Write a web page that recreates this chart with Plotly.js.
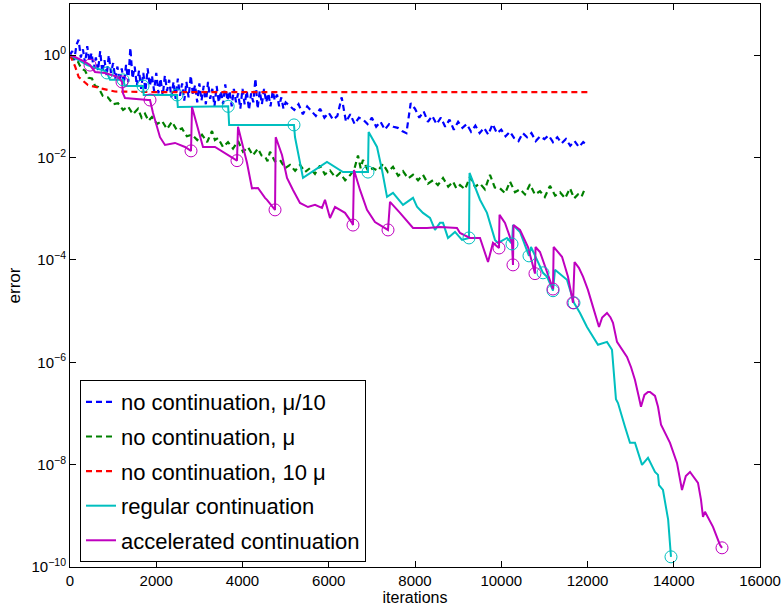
<!DOCTYPE html>
<html>
<head>
<meta charset="utf-8">
<script src="https://cdn.plot.ly/plotly-3.0.1.min.js"></script>
<style>html,body{margin:0;padding:0;background:#fff;}#chart{width:781px;height:609px;}</style>
</head>
<body>
<div id="chart"></div>
<script>
// ---------- data ----------
const seriesNames = ["no continuation, \u03bc/10", "no continuation, \u03bc", "no continuation, 10 \u03bc", "regular continuation", "accelerated continuation"];

const blueIter = [0,50,100,150,200,250,300,350,400,450,
  500,550,600,650,700,750,800,850,900,950,
  1000,1050,1100,1150,1200,1250,1300,1350,1400,1450,
  1500,1550,1600,1650,1700,1750,1800,1850,1900,1950,
  2000,2050,2100,2150,2200,2250,2300,2350,2400,2450,
  2500,2550,2600,2650,2700,2750,2800,2850,2900,2950,
  3000,3050,3100,3150,3200,3250,3300,3350,3400,3450,
  3500,3550,3600,3650,3700,3750,3800,3850,3900,3950,
  4000,4050,4100,4150,4200,4250,4300,4350,4400,4450,
  4500,4550,4600,4650,4700,4750,4800,4850,4900,4950,
  5000,5100,5200,5300,5400,5500,5600,5700,5800,5900,
  6000,6100,6200,6300,6400,6500,6600,6700,6800,6900,
  7000,7100,7200,7300,7400,7500,7600,7700,7800,7900,
  8000,8100,8200,8300,8400,8500,8600,8700,8800,8900,
  9000,9100,9200,9300,9400,9500,9600,9700,9800,9900,
  10000,10100,10200,10300,10400,10500,10600,10700,10800,10900,
  11000,11100,11200,11300,11400,11500,11600,11700,11800,11900,
  12000];
const blueErr = [1.0,1.2,0.8,1.6,2.0,0.9,1.3,0.7,1.5,0.75,
  1.1,0.55,0.9,0.5,1.2,0.45,0.8,0.4,1.0,0.45,
  0.7,0.35,0.6,0.3,0.55,0.28,0.65,0.3,1.4,0.35,
  0.6,0.25,0.5,0.22,0.45,0.2,0.55,0.25,0.4,0.2,
  0.45,0.18,0.35,0.16,0.4,0.2,0.33,0.15,0.3,0.14,
  0.35,0.16,0.28,0.13,0.3,0.15,0.4,0.17,0.26,0.12,
  0.28,0.13,0.25,0.11,0.3,0.14,0.22,0.1,0.25,0.12,
  0.2,0.11,0.27,0.13,0.2,0.1,0.22,0.12,0.18,0.09,
  0.22,0.11,0.2,0.085,0.18,0.12,0.35,0.09,0.2,0.11,
  0.22,0.12,0.18,0.1,0.2,0.13,0.17,0.1,0.15,0.09,
  0.12,0.1,0.085,0.11,0.07,0.1,0.08,0.065,0.09,0.06,
  0.075,0.055,0.065,0.15,0.05,0.07,0.045,0.06,0.055,0.045,
  0.06,0.04,0.05,0.035,0.045,0.04,0.038,0.033,0.03,0.115,
  0.09,0.06,0.08,0.05,0.065,0.045,0.06,0.04,0.055,0.035,
  0.05,0.038,0.045,0.032,0.042,0.03,0.038,0.028,0.045,0.03,
  0.035,0.026,0.032,0.024,0.021,0.03,0.025,0.03,0.021,0.026,
  0.023,0.027,0.02,0.025,0.019,0.023,0.017,0.021,0.016,0.02,
  0.017];

const greenIter = [0,90,185,260,348,430,510,580,650,760,
  880,1000,1113,1230,1345,1460,1577,1660,1739,1820,
  1901,2020,2133,2250,2365,2480,2597,2710,2829,2950,
  3061,3180,3293,3360,3432,3550,3664,3780,3896,4010,
  4127,4240,4359,4440,4522,4580,4638,4750,4870,4990,
  5101,5220,5333,5450,5565,5680,5797,5910,6029,6150,
  6261,6380,6493,6590,6678,6740,6794,6910,7026,7140,
  7258,7370,7490,7610,7722,7840,7954,8070,8185,8300,
  8417,8530,8650,8770,8881,8960,9043,9160,9275,9390,
  9507,9620,9739,9850,9971,10090,10203,10320,10435,10550,
  10667,10780,10898,11010,11130,11250,11362,11480,11594,11690,
  11780,11860,11942];
const greenErr = [1.0,0.8,0.74,0.55,0.5,0.36,0.35,0.25,0.24,0.16,
  0.15,0.11,0.115,0.085,0.1,0.07,0.09,0.06,0.072,0.052,
  0.062,0.045,0.052,0.036,0.05,0.034,0.037,0.026,0.028,0.022,
  0.028,0.02,0.033,0.022,0.024,0.016,0.02,0.015,0.021,0.013,
  0.016,0.011,0.015,0.011,0.0105,0.0085,0.013,0.0085,0.009,0.0062,
  0.0072,0.0055,0.0072,0.0052,0.0062,0.0048,0.007,0.0047,0.0056,0.0041,
  0.005,0.0036,0.0045,0.0058,0.011,0.0062,0.009,0.0055,0.0062,0.0055,
  0.0075,0.0052,0.0066,0.0044,0.0054,0.0039,0.0046,0.0036,0.0046,0.0031,
  0.0036,0.0029,0.004,0.0027,0.0034,0.0025,0.0029,0.0024,0.0042,0.0027,
  0.0031,0.0024,0.0046,0.0026,0.0025,0.002,0.0034,0.0021,0.0024,0.0019,
  0.003,0.0019,0.0022,0.0017,0.0028,0.0018,0.0021,0.0016,0.0025,0.0016,
  0.0019,0.0017,0.0025];

const redIter = [0,120,200,417,765,1040,2000,4000,6000,8000,10000,12000];
const redErr  = [1.0,0.6,0.375,0.26,0.22,0.195,0.19,0.19,0.19,0.19,0.19,0.19];

const regIter = [0,400,812,858,928,1206,1229,1275,1693,1710,
  2481,2500,3668,3690,5194,5217,5403,5959,6330,6910,
  6925,7119,7235,7351,7490,7722,7954,8046,8185,8348,
  8464,8580,8650,8765,8927,9090,9252,9265,9507,9669,
  9855,9924,10133,10249,10272,10435,10643,10690,10968,11061,
  11200,11246,11524,11687,11826,11988,12243,12452,12568,12660,
  12707,12869,12985,13101,13264,13403,13565,13635,13658,13750,
  13870,13936];
const regErr = [1.0,0.64,0.49,0.45,0.33,0.33,0.33,0.25,0.25,0.167,
  0.167,0.097,0.1,0.0434,0.0434,0.0252,0.004,0.0082,0.0052,0.0052,
  0.0316,0.0161,0.0057,0.0017,0.00204,0.00119,0.00163,0.0011,0.00083,0.00066,
  0.000385,0.00053,0.00053,0.000269,0.000352,0.000246,0.000269,0.005,0.0015,0.00083,
  0.000246,0.000215,0.000269,0.000205,0.00048,0.000352,0.00012,0.000179,5.6e-5,4.7e-5,
  2.5e-5,6.4e-5,4.1e-5,1.45e-5,9.2e-6,4.9e-6,2.2e-6,2.5e-6,1.75e-6,1.9e-7,
  1.6e-7,5.5e-8,2.67e-8,2.67e-8,9.9e-9,1.36e-8,7.2e-9,6.3e-9,4.0e-9,3.2e-9,
  8.4e-10,1.58e-10];

const accIter = [0,116,348,464,580,812,1113,1206,1229,1275,
  1809,1855,1925,2087,2203,2435,2667,2806,2829,2968,
  3084,3362,3594,3780,3872,3896,4104,4220,4359,4522,
  4568,4754,4770,4916,5032,5171,5333,5519,5681,5843,
  5913,6029,6145,6261,6377,6539,6562,6585,6725,6887,
  7072,7374,7420,7652,7954,8278,8580,8974,9043,9275,
  9507,9693,9808,9948,9960,10087,10249,10272,10285,10435,
  10620,10782,10795,10898,11130,11200,11215,11409,11548,11664,
  11700,11800,11896,12010,12127,12200,12267,12340,12452,12530,
  12591,12684,12800,12916,13010,13101,13180,13240,13320,13403,
  13450,13565,13635,13705,13913,14075,14191,14280,14377,14562,
  14632,14678,14724,14910,15072,15119];
const accErr = [1.0,0.92,0.74,0.64,0.47,0.45,0.375,0.3,0.18,0.146,
  0.133,0.133,0.074,0.025,0.0176,0.0193,0.0161,0.0135,0.097,0.034,
  0.0161,0.0161,0.0123,0.0098,0.0087,0.04,0.0079,0.0025,0.00255,0.00163,
  0.00149,0.00095,0.025,0.0112,0.004,0.00233,0.0013,0.00108,0.00119,0.00104,
  0.00149,0.00066,0.00108,0.00095,0.00083,0.00053,0.00048,0.0057,0.00233,0.00095,
  0.00055,0.000385,0.00136,0.00083,0.00042,0.00042,0.00044,0.00042,0.000337,0.000269,
  0.000269,9.1e-5,0.000215,0.000171,0.00076,0.00053,0.000215,8.0e-5,0.00048,0.000385,
  0.000179,5.4e-5,0.000179,0.000143,4.1e-5,2.7e-5,0.000179,0.000115,4.7e-5,1.45e-5,
  9.1e-5,7.0e-5,4.7e-5,2.6e-5,1.21e-5,7.5e-6,4.9e-6,7.5e-6,9.2e-6,7.6e-6,
  5.9e-6,2.5e-6,1.8e-6,1.27e-6,8.0e-7,4.5e-7,2.3e-7,1.35e-7,2.3e-7,2.64e-7,
  2.64e-7,2.2e-7,1.35e-7,6.0e-8,2.67e-8,1.08e-8,3.2e-9,6.0e-9,7.2e-9,4.4e-9,
  2.05e-9,9.5e-10,1.2e-9,6.1e-10,2.7e-10,2.37e-10];

const regRestartIter = [858,1229,1693,2481,3668,5194,6910,9252,10249,10643,10968,11200,11687,13936];
const regRestartErr  = [0.45,0.33,0.25,0.167,0.1,0.0434,0.0052,0.000269,0.000205,0.00012,5.6e-5,2.5e-5,1.45e-5,1.58e-10];
const accRestartIter = [464,1206,1855,2806,3872,4754,6562,7374,9948,10272,10782,11200,11664,15119];
const accRestartErr  = [0.64,0.3,0.133,0.0135,0.0087,0.00095,0.00048,0.000385,0.000171,8.0e-5,5.4e-5,2.7e-5,1.45e-5,2.37e-10];

const xTickVals = [0,2000,4000,6000,8000,10000,12000,14000,16000];
const yTickVals = [1e-10,1e-8,1e-6,1e-4,1e-2,1];
const yTickText = ["10<sup>\u221210</sup>","10<sup>\u22128</sup>","10<sup>\u22126</sup>","10<sup>\u22124</sup>","10<sup>\u22122</sup>","10<sup>0</sup>"];

// ---------- styles ----------
const colors = ["#0000ff", "#008000", "#ff0000", "#00bfbf", "#bf00bf"];
const dashPat = "6px,4px";

const traces = [
  {x: blueIter, y: blueErr, name: seriesNames[0], mode: "lines", legendgroup: "g1",
   line: {color: colors[0], width: 2.2, dash: dashPat}},
  {x: greenIter, y: greenErr, name: seriesNames[1], mode: "lines", legendgroup: "g2",
   line: {color: colors[1], width: 2.2, dash: dashPat}},
  {x: redIter, y: redErr, name: seriesNames[2], mode: "lines", legendgroup: "g3",
   line: {color: colors[2], width: 2.2, dash: dashPat}},
  {x: regIter, y: regErr, name: seriesNames[3], mode: "lines", legendgroup: "g4",
   line: {color: colors[3], width: 2}},
  {x: accIter, y: accErr, name: seriesNames[4], mode: "lines", legendgroup: "g5",
   line: {color: colors[4], width: 2}},
  {x: regRestartIter, y: regRestartErr, mode: "markers", showlegend: false, hoverinfo: "skip",
   marker: {symbol: "circle-open", size: 12, color: colors[3], line: {width: 1, color: colors[3]}}},
  {x: accRestartIter, y: accRestartErr, mode: "markers", showlegend: false, hoverinfo: "skip",
   marker: {symbol: "circle-open", size: 12, color: colors[4], line: {width: 1, color: colors[4]}}}
];

const axisCommon = {
  ticks: "inside", ticklen: 6, tickwidth: 1, tickcolor: "black",
  showline: true, linecolor: "black", linewidth: 1, mirror: "ticks",
  showgrid: false, zeroline: false
};

const layout = {
  width: 781, height: 609,
  margin: {l: 70, r: 21, t: 4, b: 42},
  paper_bgcolor: "white", plot_bgcolor: "white",
  font: {family: "Liberation Sans, Arial, Helvetica, sans-serif", size: 15, color: "black"},
  showlegend: true,
  xaxis: Object.assign({}, axisCommon, {
    range: [0, 16000], tickmode: "array", tickvals: xTickVals,
    ticktext: xTickVals.map(String),
    title: {text: "iterations", font: {size: 16}, standoff: 1}
  }),
  yaxis: Object.assign({}, axisCommon, {
    type: "log", range: [-10, 1], tickmode: "array", tickvals: yTickVals, ticktext: yTickText,
    title: {text: "error", font: {size: 17}, standoff: 6}
  }),
  legend: {
    x: 0.0145, y: 0.332, xanchor: "left", yanchor: "top",
    bordercolor: "black", borderwidth: 1, bgcolor: "white",
    font: {size: 22}, tracegroupgap: 3, traceorder: "grouped"
  }
};

Plotly.newPlot("chart", traces, layout, {staticPlot: true, displayModeBar: false});
</script>
</body>
</html>
